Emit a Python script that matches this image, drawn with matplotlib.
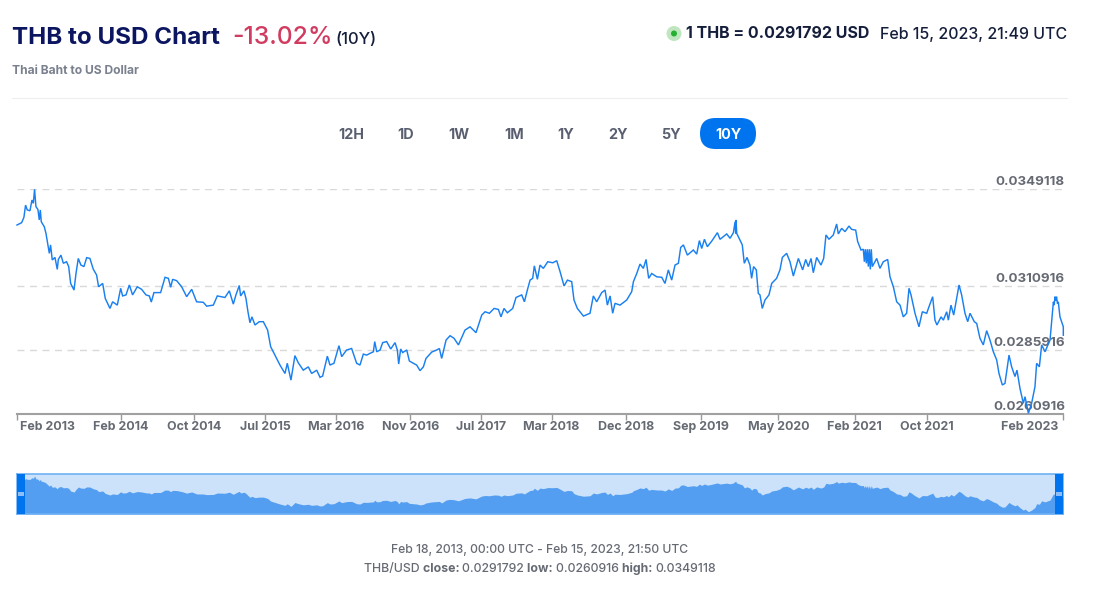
import numpy as np
import matplotlib
matplotlib.use("Agg")
import matplotlib.pyplot as plt
from matplotlib.patches import Rectangle, FancyBboxPatch, Circle

plt.rcParams['font.family'] = ['Inter', 'DejaVu Sans']

# decimal year of each sample
years = [
2013.130,2013.174,2013.196,2013.212,2013.228,2013.254,2013.273,2013.286,2013.298,2013.311,2013.330,2013.343,2013.353,2013.362,2013.391,2013.407,2013.420,2013.439,2013.451,2013.467,
2013.493,2013.515,2013.525,2013.550,2013.573,2013.604,2013.624,2013.643,2013.675,2013.694,2013.716,2013.741,2013.770,2013.796,2013.827,2013.859,2013.891,2013.910,2013.949,2013.974,
2014.019,2014.044,2014.089,2014.121,2014.140,2014.172,2014.204,2014.235,2014.280,2014.321,2014.363,2014.395,2014.414,2014.439,2014.503,2014.545,2014.577,2014.599,2014.618,2014.656,
2014.704,2014.752,2014.800,2014.847,2014.911,2014.943,2015.007,2015.045,2015.118,2015.160,2015.198,2015.223,2015.255,2015.268,2015.300,2015.319,2015.338,2015.357,2015.376,2015.405,
2015.446,2015.485,2015.526,2015.555,2015.596,2015.644,2015.692,2015.714,2015.749,2015.787,2015.819,2015.867,2015.915,2015.947,2015.995,2016.027,2016.052,2016.097,2016.122,2016.160,
2016.208,2016.234,2016.281,2016.329,2016.377,2016.409,2016.441,2016.473,2016.505,2016.537,2016.550,2016.569,2016.601,2016.626,2016.664,2016.703,2016.744,2016.766,2016.779,2016.798,
2016.817,2016.856,2016.881,2016.919,2016.951,2016.983,2017.015,2017.040,2017.095,2017.142,2017.168,2017.190,2017.232,2017.270,2017.308,2017.350,2017.413,2017.461,2017.518,2017.573,
2017.605,2017.646,2017.691,2017.732,2017.757,2017.786,2017.818,2017.869,2017.901,2017.955,2017.981,2018.009,2018.035,2018.060,2018.076,2018.105,2018.130,2018.162,2018.204,2018.252,
2018.290,2018.322,2018.360,2018.392,2018.433,2018.455,2018.487,2018.545,2018.608,2018.640,2018.672,2018.720,2018.752,2018.774,2018.800,2018.825,2018.847,2018.895,2018.959,2019.007,
2019.023,2019.055,2019.086,2019.118,2019.144,2019.169,2019.198,2019.246,2019.294,2019.325,2019.357,2019.389,2019.421,2019.453,2019.475,2019.501,2019.539,2019.596,2019.628,2019.654,
2019.676,2019.702,2019.730,2019.772,2019.826,2019.851,2019.915,2019.947,2019.979,2019.995,2020.001,2020.004,2020.011,2020.042,2020.064,2020.083,2020.109,2020.137,2020.153,2020.172,
2020.198,2020.217,2020.233,2020.255,2020.281,2020.319,2020.345,2020.392,2020.424,2020.447,2020.488,2020.520,2020.552,2020.600,2020.641,2020.670,2020.695,2020.721,2020.743,2020.775,
2020.816,2020.842,2020.864,2020.893,2020.934,2020.966,2020.982,2021.014,2021.046,2021.084,2021.109,2021.148,2021.167,2021.199,2021.221,2021.231,2021.240,2021.250,2021.259,2021.269,
2021.278,2021.288,2021.297,2021.307,2021.349,2021.380,2021.412,2021.454,2021.476,2021.508,2021.540,2021.572,2021.603,2021.635,2021.658,2021.677,2021.715,2021.753,2021.785,2021.827,
2021.849,2021.884,2021.906,2021.925,2021.964,2021.986,2022.018,2022.034,2022.059,2022.085,2022.136,2022.161,2022.193,2022.219,2022.241,2022.282,2022.305,2022.336,2022.368,2022.400,
2022.432,2022.464,2022.496,2022.518,2022.550,2022.575,2022.614,2022.639,2022.671,2022.690,2022.719,2022.751,2022.767,2022.799,2022.830,2022.862,2022.878,2022.904,2022.926,2022.958,
2023.006,2023.038,2023.046,2023.053,2023.060,2023.068,2023.077,2023.085,2023.101,2023.133,2023.133]

# THB/USD rate in units of 1e-4
rates_e4 = [
335.0,335.9,338.0,342.8,340.9,340.6,344.8,343.5,349.0,342.2,341.1,337.0,340.9,336.3,334.3,331.7,328.5,323.9,327.2,321.3,
322.3,317.6,321.5,323.2,320.0,320.6,318.7,312.1,309.5,316.0,321.9,319.3,318.7,322.2,321.9,317.7,315.4,310.8,312.1,306.2,
302.3,304.9,303.6,310.2,307.2,307.6,311.5,307.6,310.8,309.8,307.6,307.2,304.8,308.5,308.5,314.5,314.1,310.6,313.7,313.2,
310.8,306.9,309.8,304.9,304.7,303.2,303.6,307.2,306.6,309.2,304.0,307.6,311.3,307.2,309.2,306.2,301.0,296.7,299.0,295.8,
297.1,297.1,293.8,287.3,284.0,280.1,276.8,280.8,274.2,283.8,281.0,278.1,279.4,276.8,278.1,275.3,275.8,283.6,280.1,280.8,
287.7,283.4,286.0,286.6,280.8,280.1,284.4,284.0,284.7,285.3,289.3,285.3,286.0,288.9,289.3,286.4,288.9,286.0,280.5,286.4,
285.0,286.0,281.7,280.8,280.1,277.9,279.4,282.7,285.2,286.0,286.6,282.7,289.9,291.6,290.6,288.0,293.8,295.1,292.8,299.7,
301.0,300.4,302.3,301.9,299.0,302.3,300.6,302.3,306.6,307.6,304.9,309.5,313.4,314.1,319.0,313.7,319.3,318.0,320.6,320.2,
321.0,316.7,311.1,313.4,312.8,305.6,302.3,299.3,300.4,307.2,304.9,308.5,309.5,303.6,307.2,300.4,304.3,303.6,305.6,308.9,
312.8,316.0,319.7,318.0,321.5,314.1,316.0,314.7,314.5,312.1,317.4,313.4,319.3,320.0,326.2,327.2,323.2,325.2,323.6,328.9,
325.8,329.4,326.5,328.7,332.0,329.4,331.5,329.8,332.0,336.3,331.7,337.0,331.7,329.1,327.2,320.0,322.3,319.3,314.1,318.7,
317.4,308.2,307.6,302.3,305.6,307.6,312.1,314.1,317.4,322.3,323.9,320.6,315.0,321.9,317.4,321.5,318.7,321.9,316.3,322.3,
319.3,321.9,331.1,329.4,331.1,335.4,331.5,333.7,332.4,334.6,333.3,333.0,328.5,325.2,325.5,320.6,325.5,320.0,325.5,318.7,
325.5,317.6,325.5,318.7,321.9,318.0,320.6,321.5,314.7,310.8,304.9,303.6,299.0,300.4,310.2,307.6,300.4,295.1,301.0,300.4,
303.0,306.9,297.7,295.8,299.0,297.7,301.0,297.7,303.6,299.7,311.5,307.6,300.4,297.1,300.4,297.1,296.4,290.6,288.0,293.6,
289.9,285.3,282.1,276.8,272.3,272.9,284.0,279.4,275.6,278.1,270.9,265.1,267.7,261.2,265.1,271.6,280.8,279.4,288.0,285.3,
289.9,304.9,303.6,306.9,305.3,306.9,304.2,304.9,299.0,295.1,291.8]

tick_years = [2014.12,2014.82,2015.50,2016.18,2016.89,2017.57,2018.24,2018.95,2019.67,2020.41,2021.14,2021.83]
tick_labels = ['Feb 2014','Oct 2014','Jul 2015','Mar 2016','Nov 2016','Jul 2017','Mar 2018','Dec 2018','Sep 2019','May 2020','Feb 2021','Oct 2021']
first_label, last_label = 'Feb 2013', 'Feb 2023'
grid_levels = [0.0349118, 0.0310916, 0.0285916]
y_labels = ['0.0349118', '0.0310916', '0.0285916', '0.0260916']
y_values = [0.0349118, 0.0310916, 0.0285916, 0.0260916]
ranges = ['12H','1D','1W','1M','1Y','2Y','5Y','10Y']

years = np.array(years)
rates = np.array(rates_e4) / 1e4

W, H = 1105, 594
fig = plt.figure(figsize=(W/100, H/100), dpi=100, facecolor='white')

def px_axes(l, t, r, b, **kw):
    return fig.add_axes([l/W, 1-b/H, (r-l)/W, (b-t)/H], **kw)

# overlay in pixel coordinates for page furniture
bg = px_axes(0, 0, W, H, zorder=0)
bg.set_xlim(0, W); bg.set_ylim(H, 0); bg.axis('off')

NAVY = '#0b1560'
DARK = '#141d3a'
GREY = '#666a73'

bg.text(12, 37.5, 'THB to USD Chart', fontsize=17.4, fontweight='bold', color=NAVY, va='center')
bg.text(232, 37.5, '-13.02%', fontsize=17.8, color='#d13b60', va='center', fontweight='medium')
bg.text(335, 39, '(10Y)', fontsize=12, color=DARK, va='center', fontweight='medium')
bg.text(12, 71, 'Thai Baht to US Dollar', fontsize=8.7, fontweight='bold', color='#7a808e', va='center')
bg.plot([12, 1067], [97.5, 97.5], color='#eeeeee', lw=0.8)

bg.add_patch(Circle((674, 33.5), 7.5, color='#bfe6bf', lw=0))
bg.add_patch(Circle((674, 33.5), 3, color='#25b02f', lw=0))
bg.text(686, 34, '1 THB = 0.0291792 USD', fontsize=11.5, fontweight='bold', color=DARK, va='center')
bg.text(1067, 34, 'Feb 15, 2023, 21:49 UTC', fontsize=11.5, fontweight='medium', color=DARK, va='center', ha='right')

centers = [351, 406, 459, 514, 566, 618, 671, 728]
bg.add_patch(FancyBboxPatch((700+15.5, 118+15.5), 25, 0, boxstyle='round,pad=15.5', fc='#0073ee', ec='none'))
for c, r in zip(centers, ranges):
    bg.text(c, 135, r, fontsize=10.3, fontweight='bold', ha='center', va='center',
            color='white' if r == '10Y' else '#5a5f70')

bg.text(540, 550, 'Feb 18, 2013, 00:00 UTC - Feb 15, 2023, 21:50 UTC', fontsize=8.75, fontweight='medium',
        color=GREY, ha='center', va='center')

# mixed-weight stat line, laid out left to right
parts = [('THB/USD ', 'medium'), ('close: ', 'bold'), ('0.0291792 ', 'medium'), ('low: ', 'bold'),
         ('0.0260916 ', 'medium'), ('high: ', 'bold'), ('0.0349118', 'medium')]
rend = fig.canvas.get_renderer()
xx = 364
for s, w in parts:
    t = bg.text(xx, 569, s.replace(' ', '\u00a0'), fontsize=8.85, fontweight=w, color=GREY, va='center')
    xx = bg.transData.inverted().transform((t.get_window_extent(rend).x1, 0))[0]

# main chart
ax = px_axes(17, 189, 1063, 414, zorder=2)
ax.patch.set_alpha(0)
ax.set_xlim(2013.13, 2023.13)
ax.set_ylim(0.0260916, 0.0349118)
for s in ['top', 'left', 'right']:
    ax.spines[s].set_visible(False)
ax.spines['bottom'].set_color('#a0a0a0')
ax.spines['bottom'].set_linewidth(1.5)
ax.set_yticks([])
ax.set_xticks([2013.13] + tick_years + [2023.13])
ax.set_xticklabels([''] * (len(tick_years) + 2))
ax.tick_params(axis='x', length=4, width=1, color='#999999')
for g in grid_levels:
    ax.axhline(g, color='#d9d9d9', lw=1, dashes=(5, 4), zorder=1)

for y, l in zip(y_values, y_labels):
    yp = 189 + (0.0349118 - y) / (0.0349118 - 0.0260916) * 225 - 7
    bg.text(1065, yp, l, ha='right', fontsize=9.6, fontweight='bold', color=GREY, va='center')
xkw = dict(fontsize=8.95, fontweight='bold', color=GREY, va='center', ha='center')
for y, l in zip(tick_years, tick_labels):
    xp = 17 + (y - 2013.13) * 104.6
    bg.text(xp, 427, l, **xkw)
bg.text(47, 427, first_label, **xkw)
bg.text(1030, 427, last_label, **xkw)

ax.plot(years, rates, color='#1a80f0', lw=1.05, clip_on=False, zorder=3, solid_joinstyle='miter')

# navigator
nav = px_axes(17, 474, 1063, 514, zorder=2)
nav.set_xlim(2013.13, 2023.13)
nav.set_ylim(0.02555, 0.0354)
nav.set_xticks([]); nav.set_yticks([])
nav.set_facecolor('#cce2fb')
nav.fill_between(years, rates, 0.02555, color='#539ef0', lw=0)
for s in nav.spines.values():
    s.set_color('#6fb1f5'); s.set_linewidth(1.2)
for l, r in [(17, 25), (1055, 1063)]:
    ov = px_axes(l, 474, r, 514, zorder=4)
    ov.set_xlim(l, r); ov.set_ylim(514, 474); ov.axis('off')
    ov.add_patch(Rectangle((l, 474), r-l, 40, fc='#0073ee', ec='none', zorder=5))
    ov.add_patch(Rectangle(((l+r)/2-3, 492), 6, 4, fc='#8dbff6', ec='none', zorder=6))

fig.savefig('out.png', dpi=100)
